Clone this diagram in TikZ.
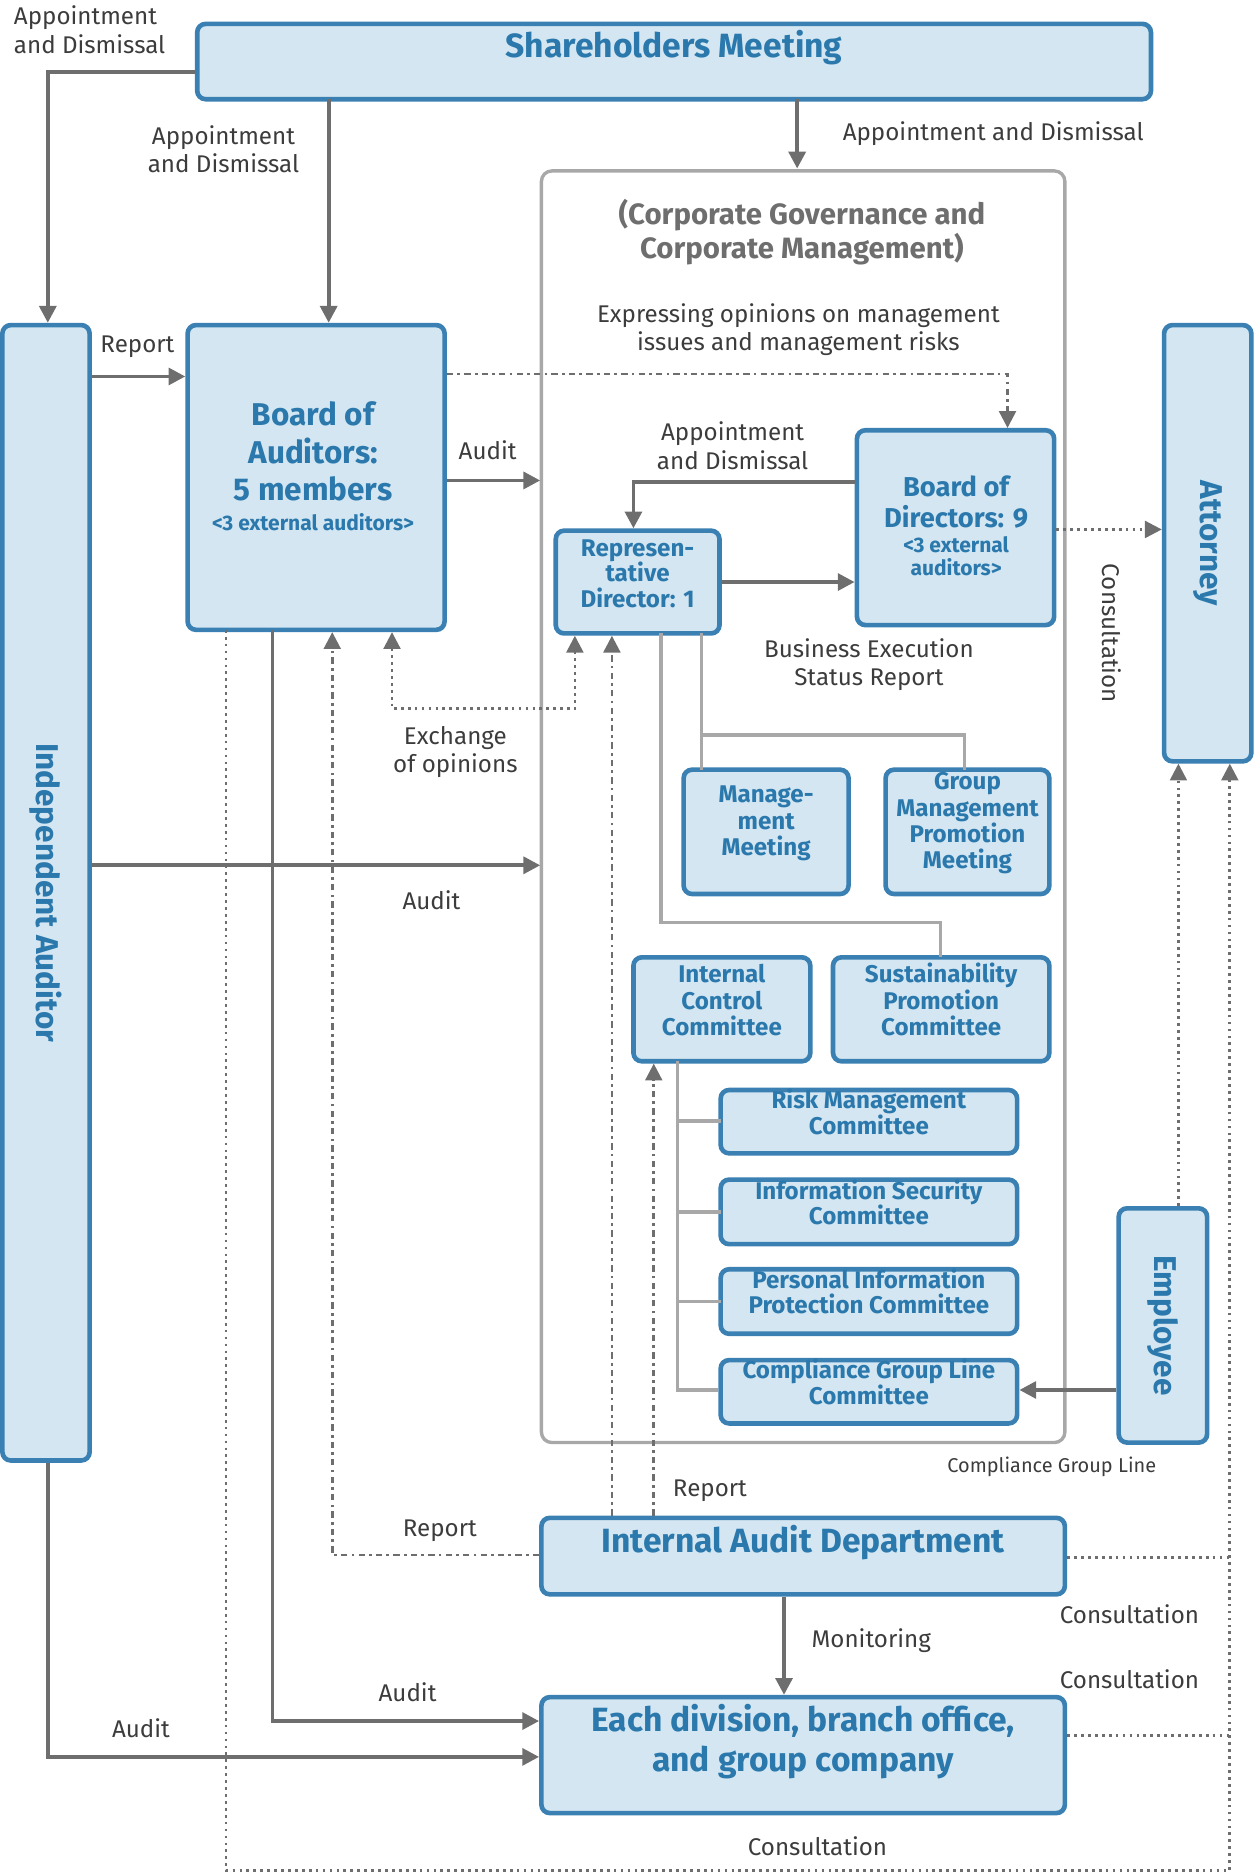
\documentclass[tikz,border=0pt]{standalone}
\usepackage{fontspec}
\setmainfont{Fira Sans}
\usetikzlibrary{fit,arrows.meta}
\definecolor{boxfill}{HTML}{D3E6F2}
\definecolor{boxline}{HTML}{3A80B2}
\definecolor{boxtext}{HTML}{2A78AC}
\definecolor{linegray}{HTML}{6E6E6E}
\definecolor{treegray}{HTML}{A8A8A8}
\definecolor{labtext}{HTML}{3C3C3C}
\tikzset{
  box/.style={draw=boxline, fill=boxfill, line width=2.2pt, rounded corners=4pt, inner sep=0pt,
    text=boxtext, font=\bfseries\fontsize{10}{11}\selectfont, align=center},
  conn/.style={draw=linegray, line width=1.8pt, -{Triangle[length=8pt,width=8pt]}},
  plain/.style={draw=linegray, line width=1.8pt},
  dotc/.style={draw=linegray, line width=1.3pt, dotted},
  dashc/.style={draw=linegray, line width=1.3pt, dash dot},
  tip/.style={-{Triangle[length=8pt,width=8pt]}},
  tree/.style={draw=treegray, line width=1.6pt},
  lab/.style={text=labtext, font=\fontsize{11.5}{13.5}\selectfont, align=center}
}
\begin{document}
\begin{tikzpicture}[x=0.02cm, y=-0.02cm]
\useasboundingbox (0,0) rectangle (1050,1568);
% frame
\draw[treegray, line width=1.6pt, rounded corners=5pt] (453,143) rectangle (891,1207);
% boxes
\node[box, fit={(165,20)(963,83)}, font=\bfseries\fontsize{16}{18}\selectfont] (share) {Shareholders Meeting};
\node[box, fit={(2,272)(75,1222)}] (indep) {};
\node[rotate=-90, text=boxtext, font=\bfseries\fontsize{15}{17}\selectfont] at (indep.center) {Independent Auditor};
\node[box, fit={(157,272)(372,527)}] (boa) {};
\node[text=boxtext, align=center, font=\bfseries\fontsize{15}{18}\selectfont] at (262,390) {Board of\\Auditors:\\5 members\\[-4pt]{\fontsize{10}{11}\selectfont <3 external auditors>}};
\node[box, fit={(717,360)(882,523)}] (bod) {};
\node[text=boxtext, align=center, font=\bfseries\fontsize{13}{15}\selectfont] at (800,440) {Board of\\Directors: 9\\[-3pt]{\fontsize{10}{11}\selectfont <3 external}\\[-4pt]{\fontsize{10}{11}\selectfont auditors>}};
\node[box, fit={(465,444)(602,530)}, font=\bfseries\fontsize{11.5}{12}\selectfont] (rep) {Represen-\\tative\\Director: 1};
\node[box, fit={(974,272)(1047,637)}] (att) {};
\node[rotate=-90, text=boxtext, font=\bfseries\fontsize{15}{17}\selectfont] at (att.center) {Attorney};
\node[box, fit={(572,644)(710,748)}, font=\bfseries\fontsize{11.5}{12.5}\selectfont] (mm) {Manage-\\ment\\Meeting};
\node[box, fit={(741,644)(878,748)}, font=\bfseries\fontsize{11.5}{12.5}\selectfont] (gmp) {Group\\Management\\Promotion\\Meeting};
\node[box, fit={(530,801)(678,888)}, font=\bfseries\fontsize{11.5}{12.5}\selectfont] (icc) {Internal\\Control\\Committee};
\node[box, fit={(697,801)(878,888)}, font=\bfseries\fontsize{11.5}{12.5}\selectfont] (spc) {Sustainability\\Promotion\\Committee};
\node[box, fit={(603,912)(851,965)}, font=\bfseries\fontsize{11.5}{12}\selectfont] (risk) {Risk Management\\Committee};
\node[box, fit={(603,987)(851,1041)}, font=\bfseries\fontsize{11.5}{12}\selectfont] (isc) {Information Security\\Committee};
\node[box, fit={(603,1062)(851,1116)}, font=\bfseries\fontsize{11.5}{12}\selectfont] (pip) {Personal Information\\Protection Committee};
\node[box, fit={(603,1138)(851,1191)}, font=\bfseries\fontsize{11.5}{12}\selectfont] (cgl) {Compliance Group Line\\Committee};
\node[box, fit={(936,1011)(1010,1207)}] (emp) {};
\node[rotate=-90, text=boxtext, font=\bfseries\fontsize{15}{17}\selectfont] at (emp.center) {Employee};
\node[box, fit={(453,1270)(891,1334)}, font=\bfseries\fontsize{16}{18}\selectfont] (iad) {Internal Audit Department};
\node[box, fit={(453,1420)(891,1517)}, font=\bfseries\fontsize{16}{19}\selectfont] (div) {Each division, branch office,\\and group company};
% tree lines
\draw[tree] (553,530) -- (553,772) -- (787,772) -- (787,801);
\draw[tree] (587,530) -- (587,644) (587,615) -- (807,615) -- (807,644);
\draw[tree] (567,888) -- (567,1163) -- (cgl.west |- 567,1163);
\foreach \yy in {938,1014,1089} \draw[tree] (567,\yy) -- (603,\yy);
% solid connectors
\draw[conn] (share.west |- 0,60) -- (40,60) -- (indep.north -| 40,0);
\draw[conn] (275,83) -- (boa.north -| 275,0);
\draw[conn] (667,83) -- (667,141);
\draw[conn] (indep.east |- 0,315) -- (boa.west |- 0,315);
\draw[conn] (boa.east |- 0,402) -- (452,402);
\draw[conn] (bod.west |- 0,403) -- (530,403) -- (rep.north -| 530,0);
\draw[conn] (rep.east |- 0,487) -- (bod.west |- 0,487);
\draw[conn] (indep.east |- 0,724) -- (452,724);
\draw[conn] (emp.west |- 0,1163) -- (cgl.east |- 0,1163);
\draw[conn] (iad.south -| 656,0) -- (div.north -| 656,0);
\draw[conn] (228,527) -- (228,1440) -- (div.west |- 0,1440);
\draw[conn] (indep.south -| 40,0) -- (40,1470) -- (div.west |- 0,1470);
% dotted / dash-dot connectors
\draw[dashc, tip] (boa.east |- 0,313) -- (843,313) -- (bod.north -| 843,0);
\draw[dotc, tip] (bod.east |- 0,443) -- (att.west |- 0,443);
\draw[dotc, {Triangle[length=8pt,width=8pt]}-{Triangle[length=8pt,width=8pt]}] (boa.south -| 328,0) -- (328,593) -- (481,593) -- (rep.south -| 481,0);
\draw[dotc, tip] (emp.north -| 986,0) -- (att.south -| 986,0);
\draw[dashc, tip] (iad.west |- 0,1301) -- (278,1301) -- (boa.south -| 278,0);
\draw[dashc, tip] (iad.north -| 512,0) -- (rep.south -| 512,0);
\draw[dashc, tip] (iad.north -| 547,0) -- (icc.south -| 547,0);
\draw[dotc, tip] (189,527) -- (189,1565) -- (1029,1565) -- (att.south -| 1029,0);
\draw[dotc] (iad.east |- 0,1303) -- (1029,1303);
\draw[dotc] (div.east |- 0,1452) -- (1029,1452);
% labels
\node[lab, align=left] at (75,25) {Appointment\\and Dismissal};
\node[lab] at (187,125) {Appointment\\and Dismissal};
\node[lab] at (831,112) {Appointment and Dismissal};
\node[lab, text=linegray, font=\bfseries\fontsize{14}{15}\selectfont] at (671,194) {(Corporate Governance and\\Corporate Management)};
\node[lab] at (668,276) {Expressing opinions on management\\issues and management risks};
\node[lab] at (613,373) {Appointment\\and Dismissal};
\node[lab] at (408,377) {Audit};
\node[lab] at (115,290) {Report};
\node[lab] at (727,556) {Business Execution\\Status Report};
\node[lab] at (381,629) {Exchange\\of opinions};
\node[lab] at (361,753) {Audit};
\node[lab, rotate=-90] at (930,530) {Consultation};
\node[lab, font=\fontsize{9.5}{11}\selectfont] at (880,1227) {Compliance Group Line};
\node[lab] at (594,1247) {Report};
\node[lab] at (368,1281) {Report};
\node[lab] at (945,1351) {Consultation};
\node[lab] at (729,1373) {Monitoring};
\node[lab] at (945,1405) {Consultation};
\node[lab] at (341,1416) {Audit};
\node[lab] at (118,1446) {Audit};
\node[lab] at (684,1545) {Consultation};
\end{tikzpicture}
\end{document}
